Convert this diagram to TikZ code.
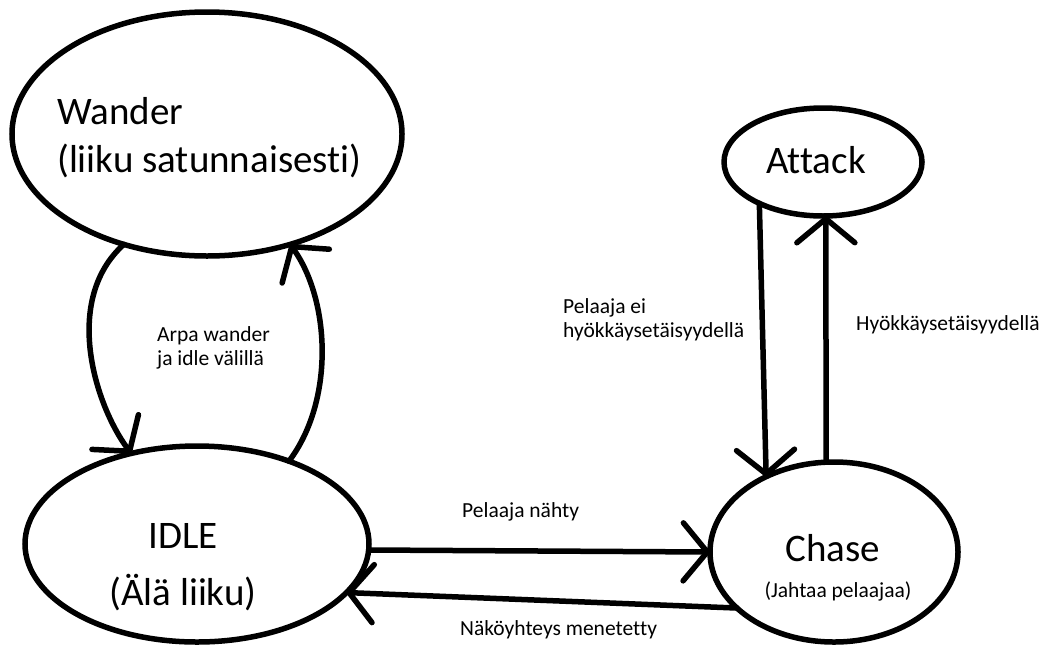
\documentclass[tikz,border=0pt]{standalone}
\usepackage{fontspec}
\setmainfont{Carlito}[Ligatures=NoCommon]
\usepackage{tikz}
\usetikzlibrary{shapes.geometric}
\usetikzlibrary{arrows.meta}

\begin{document}
\begin{tikzpicture}[x=1pt, y=-1pt,
		state/.style={draw, ellipse, line width=5.5pt, inner sep=0pt, outer sep=0pt},
		bigtxt/.style={font=\fontsize{39}{48}\selectfont, inner sep=0pt},
		smalltxt/.style={font=\fontsize{21.5}{24}\selectfont, align=left, inner sep=0pt},
		trans/.style={line width=5.5pt, line cap=round, -{Straight Barb[length=24pt, width=58pt, round]}}]
	\useasboundingbox (0,0) rectangle (1056,646);
	\node[state, minimum width=390pt, minimum height=244pt] (wander) at (207,134) {};
	\node[state, minimum width=344pt, minimum height=196pt] (idle) at (197,544) {};
	\node[state, minimum width=198pt, minimum height=108pt] (attack) at (823,162) {};
	\node[state, minimum width=248pt, minimum height=180pt] (chase) at (834,552) {};
	\node[bigtxt, align=left, anchor=west] (wander-txt) at (57,138) {Wander\\(liiku satunnaisesti)};
	\node[bigtxt, align=center] (idle-txt) at (183,567) {IDLE\\[9pt](Älä liiku)};
	\node[bigtxt, anchor=base] (attack-txt) at (816,173) {Attack};
	\node[bigtxt, anchor=base] (chase-txt) at (833,561) {Chase};
	\node[smalltxt, anchor=base] (chase-sub) at (838,597) {(Jahtaa pelaajaa)};
	\draw[trans] (wander.233) .. controls (62,300) and (95,405) .. (idle.126);
	\draw[trans] (idle.42) .. controls (335,400) and (330,300) .. (wander.-53);
	\draw[trans] (idle.-2) -- (chase.180);
	\draw[trans] (chase.210) -- (idle.-18);
	\draw[trans] (attack.213) -- (chase.132);
	\draw[trans] (chase.95) -- (attack.-87);
	\node[smalltxt, anchor=west] (arpa) at (157,347.5) {Arpa wander\\ja idle välillä};
	\node[smalltxt, anchor=base west] (seen) at (462,517) {Pelaaja nähty};
	\node[smalltxt, anchor=base west] (lost) at (460,635) {Näköyhteys menetetty};
	\node[smalltxt, anchor=west] (notnear) at (563,320) {Pelaaja ei\\hyökkäysetäisyydellä};
	\node[smalltxt, anchor=base west] (near) at (856,330) {Hyökkäysetäisyydellä};
\end{tikzpicture}
\end{document}
